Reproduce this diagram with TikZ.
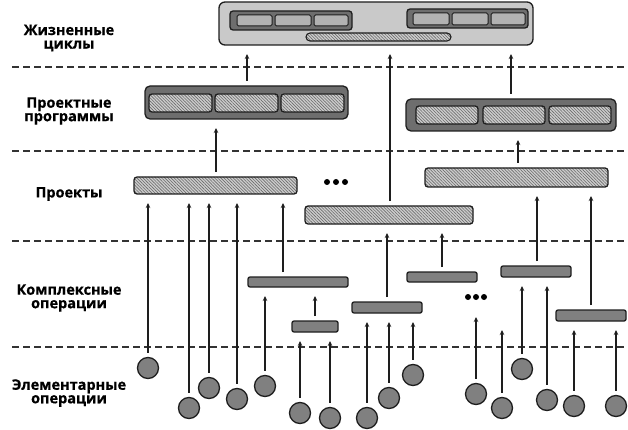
\documentclass[tikz,border=0pt]{standalone}
\usepackage{fontspec}
\setmainfont{Open Sans}[BoldFeatures={FakeBold=0.7}]
\usetikzlibrary{arrows.meta,patterns.meta}
\definecolor{edge}{HTML}{1E1E1E}
\definecolor{topfill}{HTML}{C9C9C9}
\definecolor{darkbox}{HTML}{6E6E6E}
\definecolor{cellfill}{HTML}{B2B2B2}
\definecolor{hatchbg}{HTML}{CDCDCD}
\definecolor{hatchln}{HTML}{6A6A6A}
\definecolor{compfill}{HTML}{808080}
\definecolor{dashcol}{HTML}{333333}
\tikzset{
  bx/.style={draw=edge, line width=1.3pt, inner sep=0pt, outer sep=0pt},
  hatchbar/.style={bx, rounded corners=3pt, preaction={fill=hatchbg},
    pattern={Lines[angle=-45,distance=2.2pt,line width=0.6pt]}, pattern color=hatchln},
  topbox/.style={bx, rounded corners=6pt, fill=topfill},
  darkgrp/.style={bx, rounded corners=4pt, fill=darkbox},
  topcell/.style={bx, line width=1pt, rounded corners=1.5pt, fill=cellfill},
  compbar/.style={bx, rounded corners=2pt, fill=compfill},
  elem/.style={bx, circle, minimum size=21pt, fill=compfill},
  arr/.style={draw=edge, line width=1.3pt, -{Stealth[length=5pt,width=4.5pt]},
    shorten <=5pt, shorten >=9pt},
  sep/.style={draw=dashcol, line width=1.1pt, dash pattern=on 7pt off 4pt},
  lbl/.style={font=\bfseries\fontsize{14.5}{13.5}\selectfont, align=center, text=black},
  dotmark/.style={fill=black, draw=none}
}
\newcommand\uparr[3]{%
  \path (#3,0) coordinate (tmpx);
  \draw[arr] (tmpx |- #1.north) -- (tmpx |- #2.south);}
\begin{document}
\begin{tikzpicture}[x=1pt,y=-1pt]
\useasboundingbox (0,0) rectangle (628,430);

% separators
\foreach \yy in {67,151,241,347}
  \draw[sep] (12,\yy) -- (625,\yy);

% labels
\node[lbl] (t1) at (69,38) {Жизненные\\циклы};
\node[lbl] (t2) at (69,111) {Проектные\\программы};
\node[lbl] (t3) at (69,194) {Проекты};
\node[lbl] (t4) at (69,298) {Комплексные\\операции};
\node[lbl] (t5) at (69,393) {Элементарные\\операции};

% life cycles
\node[topbox, minimum width=314pt, minimum height=43pt] (L) at (376,23.5) {};
\node[darkgrp, rounded corners=3pt, minimum width=122pt, minimum height=19pt] (LG1) at (291,20.5) {};
\node[topcell, minimum width=35pt, minimum height=11pt] (LG1a) at (254.5,20.5) {};
\node[topcell, minimum width=36pt, minimum height=11pt] (LG1b) at (293,20.5) {};
\node[topcell, minimum width=34pt, minimum height=11pt] (LG1c) at (331,20.5) {};
\node[darkgrp, rounded corners=3pt, minimum width=121pt, minimum height=19pt] (LG2) at (467.5,18.5) {};
\node[topcell, minimum width=36pt, minimum height=12pt] (LG2a) at (431,19) {};
\node[topcell, minimum width=36pt, minimum height=12pt] (LG2b) at (470,19) {};
\node[topcell, minimum width=34pt, minimum height=12pt] (LG2c) at (508,19) {};
\node[hatchbar, rounded corners=4pt, line width=1.1pt, minimum width=145pt, minimum height=8pt] (LB) at (378.5,37) {};

% project programmes
\node[darkgrp, rounded corners=5pt, minimum width=203pt, minimum height=33pt] (P1) at (246.5,102.5) {};
\node[hatchbar, minimum width=63pt, minimum height=18pt] (P1a) at (180.5,103) {};
\node[hatchbar, minimum width=63pt, minimum height=18pt] (P1b) at (246.5,103) {};
\node[hatchbar, minimum width=63pt, minimum height=18pt] (P1c) at (312.5,103) {};
\node[darkgrp, rounded corners=5pt, minimum width=210pt, minimum height=32pt] (P2) at (511,115) {};
\node[hatchbar, minimum width=62pt, minimum height=18pt] (P2a) at (447,115) {};
\node[hatchbar, minimum width=62pt, minimum height=18pt] (P2b) at (514,115) {};
\node[hatchbar, minimum width=62pt, minimum height=18pt] (P2c) at (580,115) {};

% projects
\node[hatchbar, minimum width=163pt, minimum height=17pt] (p1) at (215.5,185.5) {};
\node[hatchbar, minimum width=168pt, minimum height=18pt] (p2) at (389,215) {};
\node[hatchbar, minimum width=183pt, minimum height=19pt] (p3) at (516.5,177.5) {};

% complex operations
\node[compbar, minimum width=100pt, minimum height=10pt] (c1) at (298,282) {};
\node[compbar, minimum width=46pt, minimum height=11pt] (c2) at (315,326.5) {};
\node[compbar, minimum width=70pt, minimum height=11pt] (c3) at (387,307.5) {};
\node[compbar, minimum width=70pt, minimum height=10pt] (c4) at (442,277) {};
\node[compbar, minimum width=70pt, minimum height=11pt] (c5) at (536,271.5) {};
\node[compbar, minimum width=70pt, minimum height=11pt] (c6) at (591,315.5) {};

% dots
\foreach \xx in {327,336,345} \fill[dotmark] (\xx,182) circle (3pt);
\foreach \xx in {468,476,484} \fill[dotmark] (\xx,297) circle (3pt);

% elementary operations
\node[elem] (e1) at (148,368) {};
\node[elem] (e2) at (189,408) {};
\node[elem] (e3) at (209,388) {};
\node[elem] (e4) at (237,399) {};
\node[elem] (e5) at (265,386) {};
\node[elem] (e6) at (300,413) {};
\node[elem] (e7) at (330,418) {};
\node[elem] (e8) at (367,418) {};
\node[elem] (e9) at (389,398) {};
\node[elem] (e10) at (413,375) {};
\node[elem] (e11) at (476,394) {};
\node[elem] (e12) at (502,408) {};
\node[elem] (e13) at (522,369) {};
\node[elem] (e14) at (547,400) {};
\node[elem] (e15) at (574,406) {};
\node[elem] (e16) at (616,406) {};

\coordinate (d1) at (476,317);
\coordinate (d2) at (502,330);

% arrows
\uparr{e1}{p1}{148}
\uparr{e2}{p1}{189}
\uparr{e3}{p1}{209}
\uparr{e4}{p1}{237}
\uparr{c1}{p1}{283}
\uparr{e5}{c1}{265}
\uparr{c2}{c1}{315}
\uparr{e6}{c2}{300}
\uparr{e7}{c2}{330}
\uparr{e8}{c3}{367}
\uparr{e9}{c3}{389}
\uparr{e10}{c3}{413}
\uparr{c3}{p2}{387}
\uparr{c4}{p2}{442}
\draw[arr, shorten >=0pt] (e11.north) -- (d1);
\draw[arr, shorten >=0pt] (e12.north) -- (d2);
\uparr{e13}{c5}{522}
\uparr{e14}{c5}{547}
\uparr{c5}{p3}{537}
\uparr{c6}{p3}{591}
\uparr{e15}{c6}{574}
\uparr{e16}{c6}{616}
\uparr{p1}{P1}{216}
\uparr{p3}{P2}{518}
\uparr{P1}{L}{247}
\uparr{p2}{L}{390}
\uparr{P2}{L}{511}
\end{tikzpicture}
\end{document}
